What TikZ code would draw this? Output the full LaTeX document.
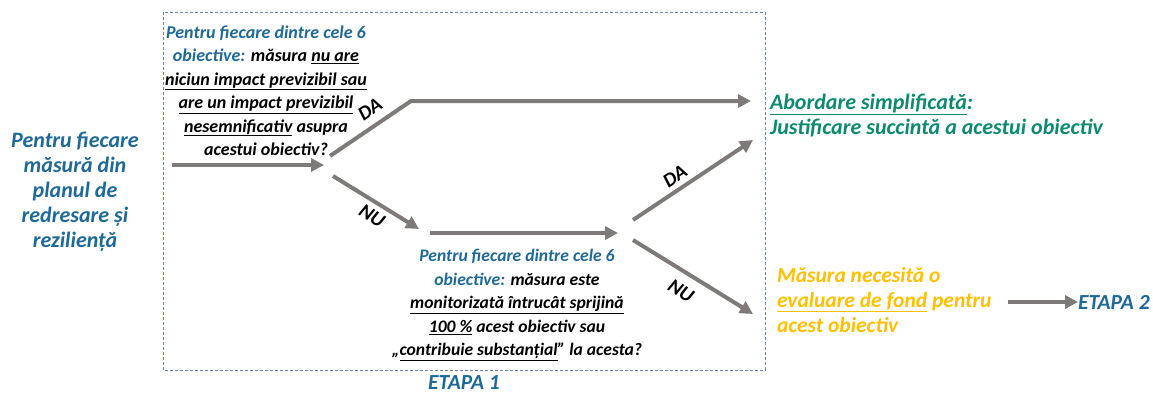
\documentclass[tikz,border=0pt]{standalone}
\usepackage{fontspec}
\setmainfont{Carlito}
\usetikzlibrary{arrows.meta}
\definecolor{tblue}{RGB}{31,105,150}
\definecolor{tgreen}{RGB}{12,138,110}
\definecolor{torange}{RGB}{255,192,0}
\definecolor{arrowgray}{RGB}{127,122,122}
\definecolor{boxblue}{RGB}{110,130,170}
\begin{document}
\begin{tikzpicture}[x=1pt,y=-1pt,
  flow/.style={draw=arrowgray, line width=4pt, -{Triangle[length=13pt,width=13pt]}},
  txt/.style={inner sep=0pt, outer sep=0pt},
  lab/.style={inner sep=0pt, font=\fontsize{20}{20}\selectfont\bfseries\itshape}]
\useasboundingbox (0,0) rectangle (1153,396);
\draw[draw=boxblue, line width=0.8pt, dash pattern=on 3pt off 2pt] (163,12) rectangle (765,370);

\node[txt, anchor=north, align=center, text=tblue,
  font=\fontsize{22}{25}\selectfont\bfseries\itshape] (src) at (75,132.5)
  {Pentru fiecare\\măsură din\\planul de\\redresare și\\reziliență};

\node[txt, anchor=north, align=center,
  font=\fontsize{18}{23.5}\selectfont\bfseries\itshape] (q1) at (266,25.5)
  {\textcolor{tblue}{Pentru fiecare dintre cele 6}\\
   \textcolor{tblue}{obiective:} măsura \underline{nu are}\\
   \underline{niciun impact previzibil sau}\\
   \underline{are un impact previzibil}\\
   \underline{nesemnificativ} asupra\\
   acestui obiectiv?};

\node[txt, anchor=north, align=center,
  font=\fontsize{17.6}{23.5}\selectfont\bfseries\itshape] (q2) at (517,249.5)
  {\textcolor{tblue}{Pentru fiecare dintre cele 6}\\
   \textcolor{tblue}{obiective:} măsura este\\
   \underline{monitorizată întrucât sprijină}\\
   \underline{100 \%} acest obiectiv sau\\
   „\underline{contribuie substanțial}” la acesta?};

\node[txt, anchor=north west, align=left, text=tgreen,
  font=\fontsize{22}{25}\selectfont\bfseries\itshape] (simp) at (770,94)
  {\underline{Abordare simplificată}:\\Justificare succintă a acestui obiectiv};

\node[txt, anchor=north west, align=left, text=torange,
  font=\fontsize{21.5}{25}\selectfont\bfseries\itshape] (eval) at (777,267.5)
  {Măsura necesită o\\\underline{evaluare de fond} pentru\\acest obiectiv};

\node[txt, anchor=west, text=tblue,
  font=\fontsize{21.5}{25}\selectfont\bfseries\itshape] (et2) at (1078,302) {ETAPA 2};
\node[txt, anchor=center, text=tblue,
  font=\fontsize{21.5}{25}\selectfont\bfseries\itshape] (et1) at (464,383) {ETAPA 1};

\coordinate (s1) at (172,165);
\coordinate (e1) at (324,165);
\coordinate (da1s) at (330,156);
\coordinate (da1k) at (411,101);
\coordinate (res1) at (751,101);
\coordinate (nu1s) at (333,176);
\coordinate (nu1e) at (419,229);
\coordinate (m1s) at (430,233);
\coordinate (m1e) at (618,233);
\coordinate (da2s) at (633,220);
\coordinate (da2e) at (753,140);
\coordinate (nu2s) at (633,240);
\coordinate (nu2e) at (753,314);
\coordinate (e2s) at (1008,302);

\draw[flow] (s1) -- (e1);
\draw[flow] (da1s) -- (da1k) -- (res1);
\draw[flow] (nu1s) -- (nu1e);
\draw[flow] (m1s) -- (m1e);
\draw[flow] (da2s) -- (da2e);
\draw[flow] (nu2s) -- (nu2e);
\draw[flow] (e2s) -- (et2.west);

\node[lab, rotate=34] (l1) at (370,109.5) {DA};
\node[lab, rotate=-32] (l2) at (372,216) {NU};
\node[lab, rotate=34] (l3) at (675,176) {DA};
\node[lab, rotate=-32] (l4) at (681,291) {NU};
\end{tikzpicture}
\end{document}
